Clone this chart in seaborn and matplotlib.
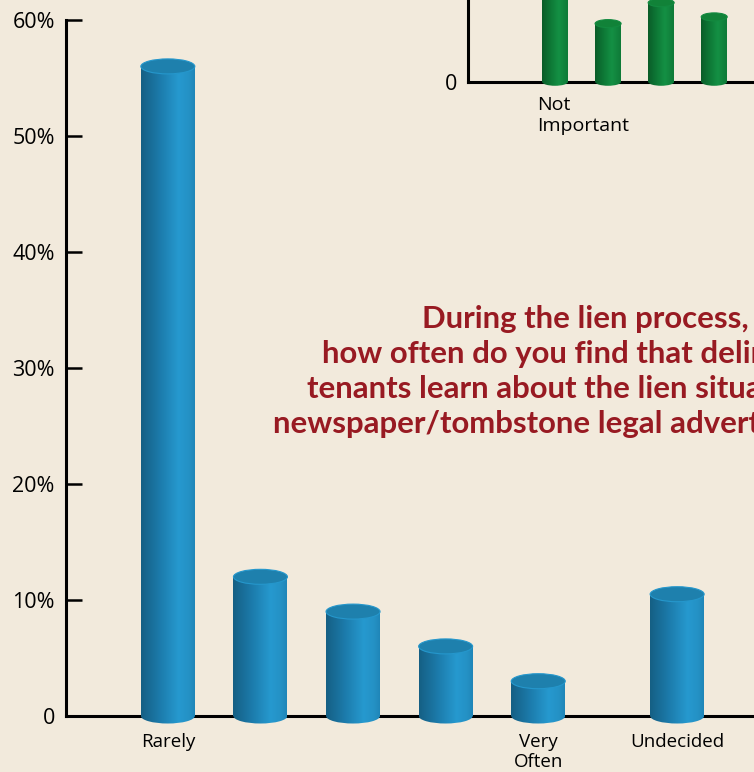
# Survey chart: how often delinquent tenants learn about the lien via legal ads
# Blue cylinders = main question, green cylinders = cropped inset chart above it

import numpy as np
import pandas as pd
import seaborn as sns
import matplotlib.pyplot as plt
from matplotlib.colors import LinearSegmentedColormap
from matplotlib.patches import Ellipse

# 1. Data
answers = ["Rarely", "2", "3", "4", "Very Often", "Undecided"]
answer_labels = ["Rarely", "", "", "", "Very\nOften", "Undecided"]
shares = [56, 12, 9, 6, 3, 10.5]

inset_answers = ["Not Important", "2", "3", "4"]
inset_values = [6.5, 3.9, 5.3, 4.35]

title = ("During the lien process,\n"
         "how often do you find that delinquent\n"
         "tenants learn about the lien situation via\n"
         "newspaper/tombstone legal advertisements?")

# 2. Style
BG = "#f2eadc"
sns.set_theme(style="white")
plt.rcParams["font.family"] = ["Open Sans", "DejaVu Sans"]
plt.rcParams["axes.facecolor"] = "none"
plt.rcParams["text.color"] = "black"
plt.rcParams["xtick.color"] = "black"
plt.rcParams["ytick.color"] = "black"

blue_map = LinearSegmentedColormap.from_list(
    "blue", [(0, "#155f84"), (0.35, "#1c7bab"), (0.7, "#2699cf"), (0.9, "#2491c4"), (1, "#1f86b8")])
green_map = LinearSegmentedColormap.from_list(
    "green", [(0, "#0a5c28"), (0.35, "#0e7a37"), (0.65, "#149044"), (1, "#0f7a38")])


def make_cylinders(ax, cmap, cap_color, cap_px):
    # turn seaborn's flat bars into shaded cylinders
    px_per_unit = ax.transData.transform((0, 1))[1] - ax.transData.transform((0, 0))[1]
    eh = cap_px / px_per_unit
    grad = np.linspace(0, 1, 256).reshape(1, -1)
    for bar in list(ax.patches):
        x, w, h = bar.get_x(), bar.get_width(), bar.get_height()
        bar.set_facecolor("none")
        bar.set_edgecolor("none")
        bottom = Ellipse((x + w / 2, 0), w, eh, facecolor="none", edgecolor="none")
        ax.add_patch(bottom)
        for clip in (bar, bottom):
            im = ax.imshow(grad, extent=(x, x + w, -eh, h), cmap=cmap,
                           aspect="auto", zorder=3, interpolation="bilinear")
            im.set_clip_path(clip)
        top = Ellipse((x + w / 2, h), w, eh, facecolor=cap_color,
                      edgecolor=cmap(0.75), linewidth=0.8, zorder=4)
        ax.add_patch(top)


fig = plt.figure(figsize=(7.54, 7.72), dpi=100, facecolor=BG)

# 3. Main chart
ax = fig.add_axes([0.0875, 0.0575, 0.9125, 0.9166])
xpos = [0, 1, 2, 3, 4, 5.5]
sns.barplot(x=xpos, y=shares, native_scale=True, width=0.583,
            color="#1f86b8", errorbar=None, ax=ax)
ax.set_xlim(-1.10, 6.33)
ax.set_ylim(-1, 60)

sns.despine(ax=ax)
ax.spines["bottom"].set_position(("data", 0))
ax.spines["left"].set_bounds(0, 60)
for s in ("left", "bottom"):
    ax.spines[s].set_color("black")
    ax.spines[s].set_linewidth(2.2)

ax.set_yticks(range(0, 61, 10))
ax.set_yticklabels(["0"] + [f"{v}%" for v in range(10, 61, 10)])
ax.tick_params(axis="y", direction="in", length=11.5, width=1.8, color="black",
               labelsize=15.5, pad=8, left=True)
ax.set_xticks(xpos)
ax.set_xticklabels(answer_labels, linespacing=1.15)
ax.tick_params(axis="x", length=0, labelsize=13.5, pad=12.5)
for lbl in ax.get_xticklabels():
    lbl.set_va("top")

make_cylinders(ax, blue_map, "#1e80ad", 15)

# 4. Inset chart (cropped at the top of the picture)
ax_in = fig.add_axes([0.6207, 0.8873, 0.3793, 0.2])
sns.barplot(x=inset_answers, y=inset_values, order=inset_answers, width=0.49,
            color="#128a3e", errorbar=None, ax=ax_in)
ax_in.set_xlim(-1.64, 3.75)
ax_in.set_ylim(-0.35, 10)
sns.despine(ax=ax_in)
ax_in.spines["bottom"].set_position(("data", 0))
ax_in.spines["left"].set_bounds(0, 10)
for s in ("left", "bottom"):
    ax_in.spines[s].set_color("black")
    ax_in.spines[s].set_linewidth(2.2)
ax_in.set_yticks([0])
ax_in.set_yticklabels(["0"])
ax_in.tick_params(axis="y", length=0, labelsize=15.5, pad=8)
ax_in.set_xticks([])
ax_in.set_xlabel("")
ax_in.text(-0.34, -0.95, "Not\nImportant", ha="left", va="top", fontsize=14,
           linespacing=1.25)

make_cylinders(ax_in, green_map, "#118238", 8)

# 5. Question text, runs off the right edge as in the original
fig.text(0.777, 0.605, title, ha="center", va="top", color="#981a22",
         fontsize=22.4, fontweight="bold", family=["Lato", "DejaVu Sans"],
         linespacing=1.3)

plt.savefig("out.png", dpi=100, facecolor=BG)
